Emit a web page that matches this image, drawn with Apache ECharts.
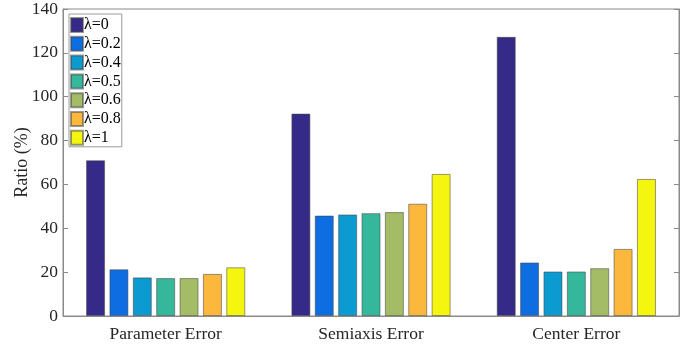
<!DOCTYPE html>
<html>
<head>
<meta charset="utf-8">
<script src="https://cdn.jsdelivr.net/npm/echarts@6/dist/echarts.min.js"></script>
<style>
  html, body { margin: 0; padding: 0; background: #fff; }
  #chart { width: 696px; height: 350px; }
</style>
</head>
<body>
<div id="chart"></div>
<script>
// Error categories along the x axis
const categories = ['Parameter Error', 'Semiaxis Error', 'Center Error'];

// One series per λ setting, values in percent
const lambdaNames = ['λ=0', 'λ=0.2', 'λ=0.4', 'λ=0.5', 'λ=0.6', 'λ=0.8', 'λ=1'];
const lambda0   = [71.0, 92.3, 127.3];
const lambda02  = [21.3, 45.8, 24.4];
const lambda04  = [17.6, 46.3, 20.3];
const lambda05  = [17.3, 46.9, 20.3];
const lambda06  = [17.3, 47.4, 21.8];
const lambda08  = [19.2, 51.2, 30.6];
const lambda1   = [22.2, 64.8, 62.5];
const seriesValues = [lambda0, lambda02, lambda04, lambda05, lambda06, lambda08, lambda1];

// Parula-style palette
const palette = ['#352a87', '#0e6de1', '#0b9bd0', '#35b79b', '#a5bc67', '#fcb83d', '#f5f60f'];

const yTicks = [0, 20, 40, 60, 80, 100, 120, 140];

const serif = '"Liberation Serif", "Times New Roman", serif';
const axisGray = '#8a8a8a';

const chart = echarts.init(document.getElementById('chart'), null, { renderer: 'canvas' });

const series = lambdaNames.map((name, i) => ({
  name: name,
  type: 'bar',
  data: seriesValues[i],
  barWidth: 19,
  barGap: '23%',
  itemStyle: {
    color: palette[i],
    borderColor: 'rgba(70,70,70,0.55)',
    borderWidth: 1
  },
  emphasis: { disabled: true }
}));

chart.setOption({
  animation: false,
  backgroundColor: '#ffffff',
  grid: {
    left: 63, right: 17, top: 9, bottom: 34,
    containLabel: false,
    outerBoundsMode: 'none',
    show: true,
    borderColor: axisGray,
    borderWidth: 1,
    backgroundColor: 'transparent'
  },
  legend: {
    orient: 'vertical',
    left: 69,
    top: 14,
    data: lambdaNames,
    icon: 'rect',
    itemWidth: 12,
    itemHeight: 14,
    itemGap: 2.8,
    padding: [3, 1, 1, 1],
    borderColor: '#9a9a9a',
    borderWidth: 1,
    backgroundColor: '#ffffff',
    textStyle: {
      fontFamily: serif,
      fontSize: 16,
      color: '#000',
      padding: [0, 0, 0, -4]
    },
    selectedMode: false
  },
  xAxis: {
    type: 'category',
    data: categories,
    axisLine: { show: true, lineStyle: { color: axisGray, width: 1 } },
    axisTick: { show: false },
    axisLabel: {
      fontFamily: serif,
      fontSize: 17.5,
      color: '#262626',
      margin: 9
    },
    splitLine: { show: false }
  },
  yAxis: [{
    type: 'value',
    min: yTicks[0],
    max: yTicks[yTicks.length - 1],
    interval: 20,
    name: 'Ratio (%)',
    nameLocation: 'middle',
    nameGap: 32,
    nameMoveOverlap: false,
    nameTextStyle: { fontFamily: serif, fontSize: 18, color: '#262626' },
    axisLine: { show: true, lineStyle: { color: axisGray, width: 1 } },
    axisTick: { show: true, inside: true, length: 5, lineStyle: { color: axisGray } },
    axisLabel: {
      fontFamily: serif,
      fontSize: 17.5,
      color: '#262626',
      margin: 5
    },
    splitLine: { show: false }
  }, {
    type: 'value',
    position: 'right',
    min: yTicks[0],
    max: yTicks[yTicks.length - 1],
    interval: 20,
    axisLine: { show: true, lineStyle: { color: axisGray, width: 1 } },
    axisTick: { show: true, inside: true, length: 5, lineStyle: { color: axisGray } },
    axisLabel: { show: false },
    splitLine: { show: false }
  }],
  series: series
});
</script>
</body>
</html>
